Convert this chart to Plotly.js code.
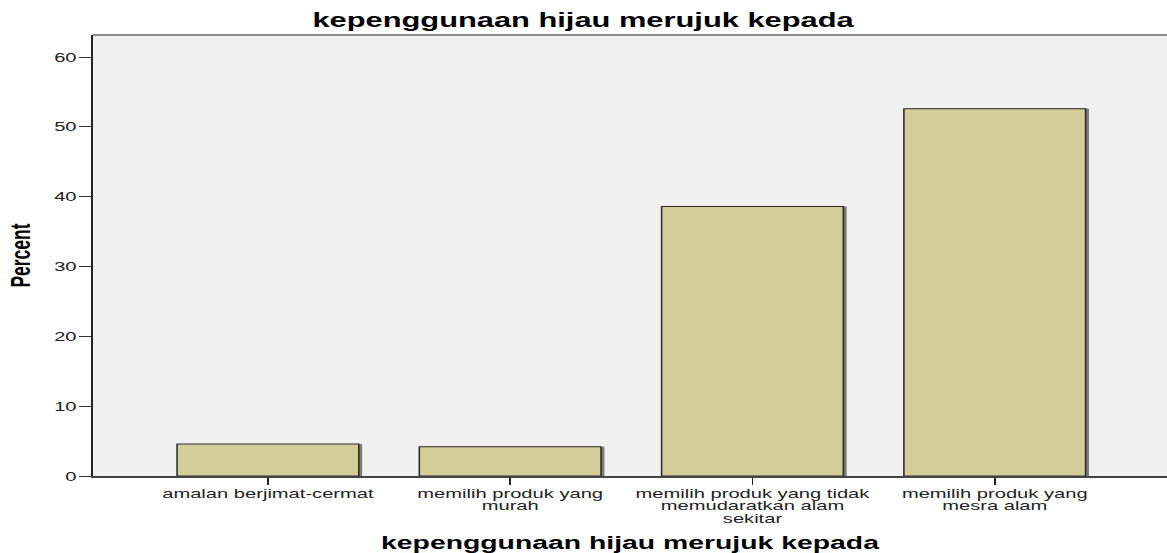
<!DOCTYPE html>
<html><head><meta charset="utf-8">
<script src="https://cdn.plot.ly/plotly-3.0.1.min.js"></script>
<style>
html,body{margin:0;padding:0;background:#fff;overflow:hidden;}
#chart{width:753px;height:553px;transform:scaleX(1.5498);transform-origin:0 0;}
</style></head><body><div id="chart"></div>
<script>
// ---- data ----
const categories = ["amalan berjimat-cermat", "memilih produk yang murah", "memilih produk yang tidak memudaratkan alam sekitar", "memilih produk yang mesra alam"];
const tickLabels = ["amalan berjimat-cermat", "memilih produk yang<br>murah", "memilih produk yang tidak<br>memudaratkan alam<br>sekitar", "memilih produk yang<br>mesra alam"];
const percents = [4.6, 4.2, 38.6, 52.6];
const yTicks = [0, 10, 20, 30, 40, 50, 60];
const chartTitle = "kepenggunaan hijau merujuk kepada";
const xTitle = "kepenggunaan hijau merujuk kepada";
const yTitle = "Percent";

const FONT = "Liberation Sans, Arial, sans-serif";
const barW = 0.75;

const shadow = {
  type: "bar", x: categories, y: percents, width: barW, offset: -barW / 2 + 0.014,
  marker: {color: "#7d7d78", line: {width: 0}}, hoverinfo: "skip", showlegend: false
};
const bars = {
  type: "bar", x: categories, y: percents, width: barW, name: yTitle,
  marker: {color: "#d3ce98", line: {color: "#2a2a2a", width: 1}}, showlegend: false
};

const layout = {
  width: 753, height: 553,
  margin: {l: 60, r: 0, t: 35, b: 77},
  paper_bgcolor: "#ffffff", plot_bgcolor: "#f0f0f0",
  barmode: "overlay",
  title: {text: "<b>" + chartTitle + "</b>", font: {family: FONT, size: 19.9, color: "#000"},
          xref: "container", x: 0.4996, xanchor: "center", yref: "container", y: 1 - 20 / 553, yanchor: "middle"},
  xaxis: {
    type: "category", tickmode: "array", tickvals: categories, ticktext: tickLabels,
    range: [-0.722, 3.711], showgrid: false, zeroline: false,
    showline: true, linecolor: "#444", linewidth: 2,
    ticks: "outside", ticklen: 7, tickwidth: 1, tickcolor: "#222",
    ticklabelstandoff: -3,
    tickfont: {family: FONT, size: 13, color: "#222"},
    title: {text: "<b>" + xTitle + "</b>", font: {family: FONT, size: 18.3, color: "#000"}, standoff: 20},
    automargin: false, fixedrange: true
  },
  yaxis: {
    range: [0, 63.15], tickmode: "array", tickvals: yTicks,
    showgrid: false, zeroline: false,
    showline: true, linecolor: "#222", linewidth: 1,
    ticks: "outside", ticklen: 8, tickwidth: 1, tickcolor: "#333",
    ticklabelstandoff: -1,
    tickfont: {family: FONT, size: 13, color: "#222"},
    title: {text: "<b>" + yTitle + "</b>", font: {family: FONT, size: 17.5, color: "#000"}, standoff: 10},
    automargin: false, fixedrange: true
  },
  shapes: [{type: "line", xref: "paper", yref: "paper", x0: 0, x1: 1, y0: 1, y1: 1, line: {color: "#8a8a8a", width: 2}}]
};

Plotly.newPlot("chart", [shadow, bars], layout, {displayModeBar: false, staticPlot: true}).then(function (gd) {
  gd.querySelectorAll(".xtick text").forEach(function (t) {
    t.querySelectorAll("tspan.line").forEach(function (ln, i) {
      ln.setAttribute("dy", (i * 0.98) + "em");
    });
  });
});
</script></body></html>
